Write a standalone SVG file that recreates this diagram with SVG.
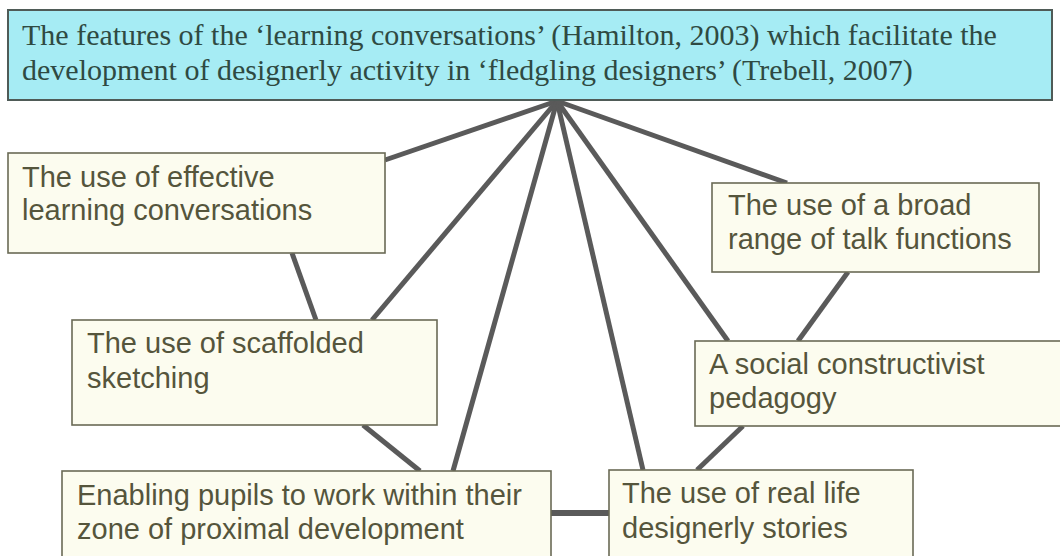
<svg xmlns="http://www.w3.org/2000/svg" width="1060" height="556" viewBox="0 0 1060 556">
<style>
.node rect{fill:#fcfcef;stroke:#6a6a55;stroke-width:1.6}
.node text{font-family:"Liberation Sans",Arial,sans-serif;font-size:29px;fill:#55553c}
.top rect{fill:#a6ecf4;stroke:#4f5b57;stroke-width:2}
.top text{font-family:"Liberation Serif","Times New Roman",serif;font-size:30px;fill:#2f4a42}
#connectors line{stroke:#5a5a5a;stroke-width:5;stroke-linecap:butt}
</style>
<rect width="1060" height="556" fill="#ffffff"/>
<g id="connectors">
<line x1="557" y1="101" x2="385" y2="160"/>
<line x1="557" y1="101" x2="372" y2="320"/>
<line x1="557" y1="101" x2="453" y2="471"/>
<line x1="557" y1="101" x2="643" y2="470"/>
<line x1="557" y1="101" x2="728" y2="341"/>
<line x1="557" y1="101" x2="787" y2="183"/>
<line x1="292" y1="253" x2="316" y2="320"/>
<line x1="363" y1="425" x2="420" y2="471"/>
<line x1="848" y1="272" x2="798" y2="341"/>
<line x1="743" y1="426" x2="697" y2="470"/>
<line x1="551" y1="513" x2="609" y2="513" style="stroke-width:6"/>
</g>
<g id="title" class="top">
<rect x="8" y="10" width="1044" height="90"/>
<text x="22" y="45">The features of the ‘learning conversations’ (Hamilton, 2003) which facilitate the</text>
<text x="22" y="80">development of designerly activity in ‘fledgling designers’ (Trebell, 2007)</text>
</g>
<g id="n1" class="node">
<rect x="8" y="153" width="377" height="100"/>
<text x="22" y="187">The use of effective</text>
<text x="22" y="220">learning conversations</text>
</g>
<g id="n2" class="node">
<rect x="712" y="183" width="327" height="89"/>
<text x="728" y="215">The use of a broad</text>
<text x="728" y="249">range of talk functions</text>
</g>
<g id="n3" class="node">
<rect x="72" y="320" width="365" height="105"/>
<text x="87" y="353">The use of scaffolded</text>
<text x="87" y="388">sketching</text>
</g>
<g id="n4" class="node">
<rect x="695" y="341" width="370" height="85"/>
<text x="709" y="374">A social constructivist</text>
<text x="709" y="408">pedagogy</text>
</g>
<g id="n5" class="node">
<rect x="62" y="471" width="489" height="95"/>
<text x="77" y="505">Enabling pupils to work within their</text>
<text x="77" y="539">zone of proximal development</text>
</g>
<g id="n6" class="node">
<rect x="609" y="470" width="304" height="96"/>
<text x="622" y="503">The use of real life</text>
<text x="622" y="538">designerly stories</text>
</g>
</svg>
